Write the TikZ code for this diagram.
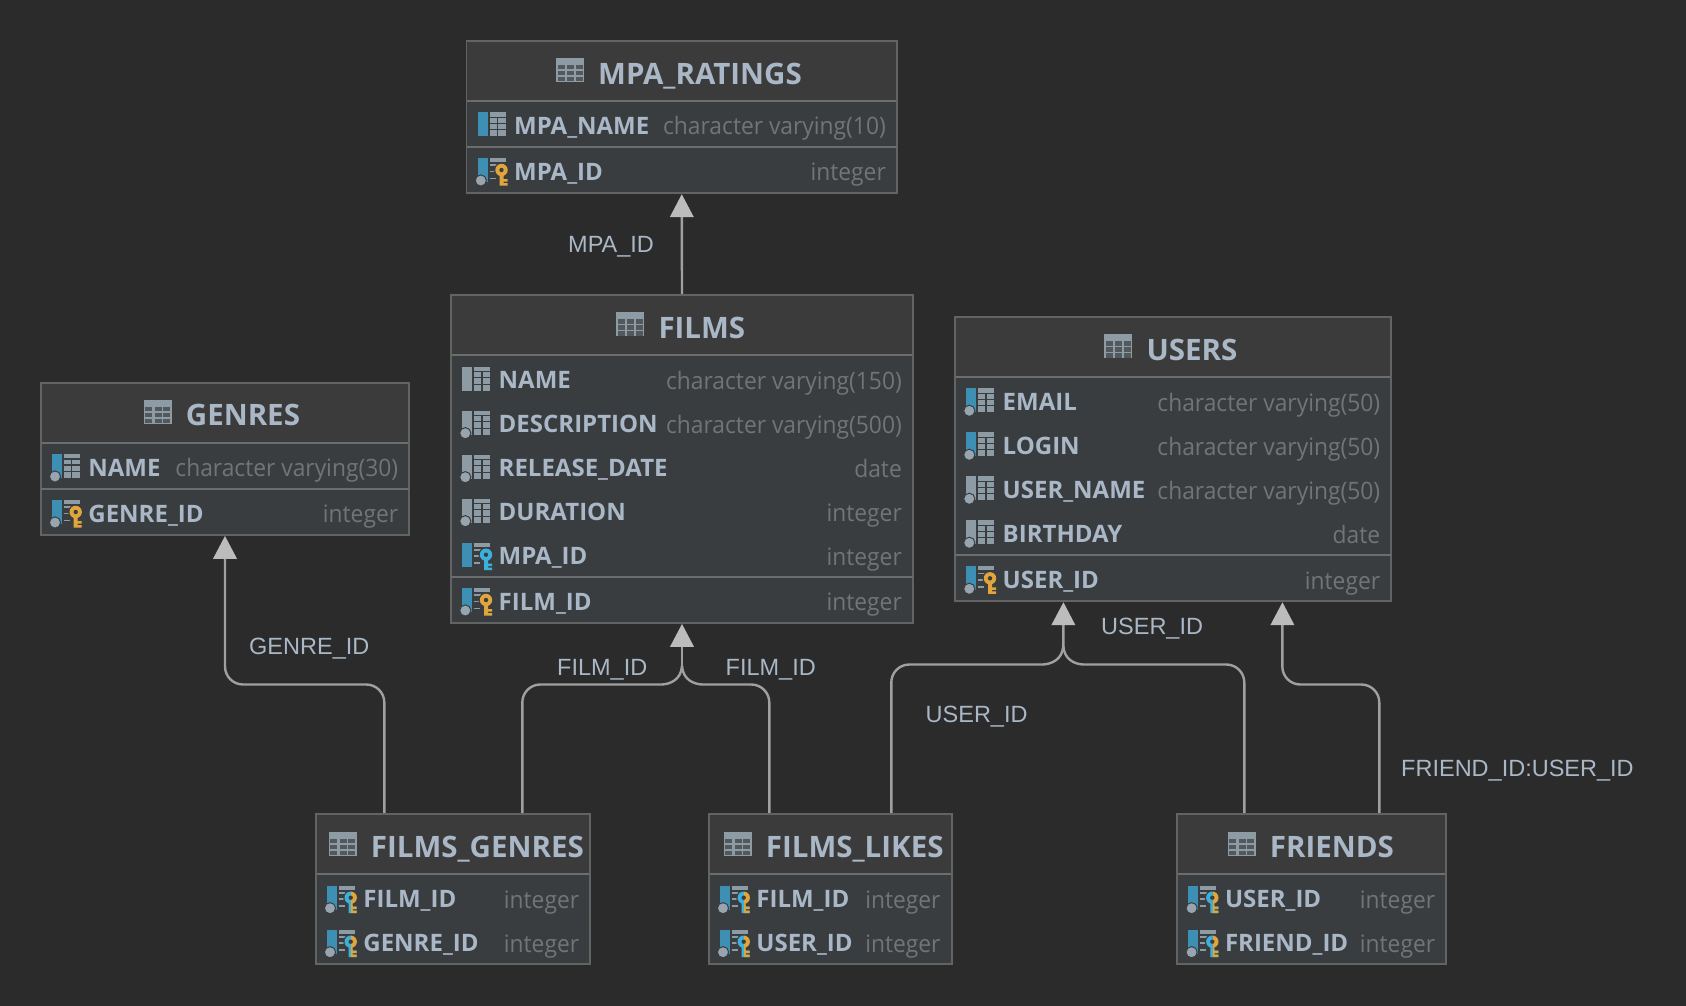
\documentclass[tikz,border=0pt]{standalone}
\usepackage{fontspec}
\setmainfont{Open Sans}
\newfontfamily\typefont[FakeStretch=.95]{Open Sans}
\newfontfamily\edgefont{Liberation Sans}
\usetikzlibrary{arrows.meta}
\definecolor{bgdark}{HTML}{2B2B2B}
\definecolor{headfill}{HTML}{3C3B3B}
\definecolor{rowfill}{HTML}{3A3D40}
\definecolor{framegray}{HTML}{626464}
\definecolor{sepgray}{HTML}{6C6E6E}
\definecolor{titleblue}{HTML}{A9B7C6}
\definecolor{typegray}{HTML}{727475}
\definecolor{icongray}{HTML}{8D9BA5}
\definecolor{cellgray}{HTML}{53585C}
\definecolor{barblue}{HTML}{3D8FB3}
\definecolor{dotgray}{HTML}{99A5AE}
\definecolor{keygold}{HTML}{E0A63C}
\definecolor{keyblue}{HTML}{3CB0DC}
\definecolor{linkgray}{HTML}{A0A0A0}
\definecolor{tipgray}{HTML}{BCBCBC}

% small parts of the column icons, origin at left of the bar
\newcommand{\iconbar}[1]{\fill[#1] (0,-12) rectangle (10,12);}
\newcommand{\icondot}{\fill[dotgray,draw=rowfill,line width=1] (3.3,10.5) circle (5.6);}
\newcommand{\icongrid}{%
\fill[icongray] (12,-12) rectangle (28,12);
\draw[rowfill,line width=1.2] (20,-7) -- (20,12) (12,-7) -- (28,-7) (12,-1) -- (28,-1) (12,5.5) -- (28,5.5);}
\newcommand{\iconkeygrid}{%
\fill[icongray] (12,-12) rectangle (28,-8);
\draw[icongray,line width=1.6] (12,-5) -- (19,-5) (12,1.5) -- (17,1.5) (12,8.5) -- (18,8.5);}
\newcommand{\iconkey}[1]{%
\fill[rowfill] (24,0) circle (7.5);
\fill[#1] (24,0) circle (6.2);
\fill[rowfill] (24,0) circle (2.2);
\fill[#1] (22,5) rectangle (26,15.5) (26,9) rectangle (30,11.5) (26,13) rectangle (30,15.5);}

\tikzset{
  tablehead/.style={anchor=base west,inner sep=0,font=\fontsize{29.5}{32}\selectfont\bfseries,text=titleblue},
  colname/.style={anchor=base west,inner sep=0,font=\fontsize{24}{28}\selectfont\bfseries,text=titleblue},
  coltype/.style={anchor=base east,inner sep=0,font=\fontsize{24}{28}\typefont,text=typegray},
  edgelabel/.style={anchor=base west,inner sep=0,font=\fontsize{23.5}{26}\edgefont,text=titleblue},
  framebox/.style={draw=framegray,line width=1.8,inner sep=0},
  seprule/.style={draw=sepgray,line width=2},
  fklink/.style={draw=linkgray,line width=2.4},
  fktip/.style={fklink,-{Triangle[length=23,width=23.5,color=tipgray]}},
  pics/colplain/.style={code={\iconbar{#1}\icongrid}},
  pics/coldotted/.style={code={\iconbar{#1}\icongrid\icondot}},
  pics/colpk/.style={code={\iconbar{barblue}\iconkeygrid\icondot\iconkey{keygold}}},
  pics/colfk/.style={code={\iconbar{barblue}\iconkeygrid\iconkey{keyblue}}},
  pics/colboth/.style={code={\iconbar{barblue}\iconkeygrid\icondot\iconkey{keyblue}
    \begin{scope}\clip (24.5,-8) rectangle (32,17);\iconkey{keygold}\end{scope}}},
  pics/tableicon/.style={code={
    \fill[icongray] (-14,-12) rectangle (14,12);
    \foreach \cx in {-12.5,-3.2,5.6} \foreach \cy in {-5,1,7}
      \fill[#1] (\cx,\cy) rectangle ++(7,4.2);}},
}

% name, left, top, right, bottom, end of head
\newcommand{\tableframe}[6]{%
\fill[rowfill] (#2,#3) rectangle (#4,#5);
\fill[headfill] (#2,#3) rectangle (#4,#6);
\draw[seprule] (#2,#6) -- (#4,#6);
\node[framebox,minimum width={(#4-#2)*1pt},minimum height={(#5-#3)*1pt}] (#1) at ({(#2+#4)/2},{(#3+#5)/2}) {};}
% name, text x, baseline, text
\newcommand{\tabletitle}[4]{%
\pic at ({#2-29},{#3-13}) {tableicon=cellgray};
\node[tablehead] (#1title) at ({#2-1},{#3+.8}) {#4};}
% name, left, right, baseline, column, type, icon
\newcommand{\colrow}[7]{%
\pic at ({#2+11},{#4-10}) {#7};
\node[colname] (#1name) at ({#2+47.5},#4) {#5};
\node[coltype] (#1type) at ({#3-11},{#4+.7}) {#6};}

\begin{document}
\begin{tikzpicture}[x=1pt,y=-1pt]
\useasboundingbox (0,0) rectangle (1686,1006);
\fill[bgdark] (0,0) rectangle (1686,1006);

% MPA_RATINGS
\tableframe{mpa}{466.5}{40.7}{897}{193.3}{101}
\draw[seprule] (466.5,147) -- (897,147);
\tabletitle{mpa}{599}{83.3}{MPA\_RATINGS}
\colrow{mpaa}{466.5}{897}{134.3}{MPA\_NAME}{character varying(10)}{colplain=barblue}
\colrow{mpab}{466.5}{897}{180}{MPA\_ID}{integer}{colpk}

% FILMS
\tableframe{films}{451}{294.7}{913}{623}{355}
\draw[seprule] (451,576.7) -- (913,576.7);
\tabletitle{films}{659.3}{337.3}{FILMS}
\colrow{filmsa}{451}{913}{388.7}{NAME}{character varying(150)}{colplain=icongray}
\colrow{filmsb}{451}{913}{432.7}{DESCRIPTION}{character varying(500)}{coldotted=icongray}
\colrow{filmsc}{451}{913}{476.7}{RELEASE\_DATE}{date}{coldotted=icongray}
\colrow{filmsd}{451}{913}{520.7}{DURATION}{integer}{coldotted=icongray}
\colrow{filmse}{451}{913}{564.7}{MPA\_ID}{integer}{colfk}
\colrow{filmsf}{451}{913}{610}{FILM\_ID}{integer}{colpk}

% GENRES
\tableframe{genres}{40.7}{382.7}{409.3}{535}{442.7}
\draw[seprule] (40.7,488.7) -- (409.3,488.7);
\tabletitle{genres}{186.7}{425}{GENRES}
\colrow{genresa}{40.7}{409.3}{476}{NAME}{character varying(30)}{coldotted=barblue}
\colrow{genresb}{40.7}{409.3}{522}{GENRE\_ID}{integer}{colpk}

% USERS
\tableframe{users}{955}{316.7}{1391.3}{601.3}{377}
\draw[seprule] (955,555) -- (1391.3,555);
\tabletitle{users}{1147.3}{359.3}{USERS}
\colrow{usersa}{955}{1391.3}{410.3}{EMAIL}{character varying(50)}{coldotted=barblue}
\colrow{usersb}{955}{1391.3}{454.3}{LOGIN}{character varying(50)}{coldotted=barblue}
\colrow{usersc}{955}{1391.3}{498.3}{USER\_NAME}{character varying(50)}{coldotted=icongray}
\colrow{usersd}{955}{1391.3}{542.3}{BIRTHDAY}{date}{coldotted=icongray}
\colrow{userse}{955}{1391.3}{588.3}{USER\_ID}{integer}{colpk}

% FILMS_GENRES
\tableframe{fg}{315.7}{813.7}{590.3}{963.7}{873.7}
\tabletitle{fg}{371.7}{856.7}{FILMS\_GENRES}
\colrow{fga}{315.7}{590.3}{907.7}{FILM\_ID}{integer}{colboth}
\colrow{fgb}{315.7}{590.3}{951.7}{GENRE\_ID}{integer}{colboth}

% FILMS_LIKES
\tableframe{fl}{708.7}{813.7}{951.7}{963.7}{873.7}
\tabletitle{fl}{766.7}{856.7}{FILMS\_LIKES}
\colrow{fla}{708.7}{951.7}{907.7}{FILM\_ID}{integer}{colboth}
\colrow{flb}{708.7}{951.7}{951.7}{USER\_ID}{integer}{colboth}

% FRIENDS
\tableframe{friends}{1177.3}{813.7}{1446.3}{963.7}{873.7}
\tabletitle{friends}{1270.7}{856.7}{FRIENDS}
\colrow{friendsa}{1177.3}{1446.3}{907.7}{USER\_ID}{integer}{colboth}
\colrow{friendsb}{1177.3}{1446.3}{951.7}{FRIEND\_ID}{integer}{colboth}

% links
\coordinate (genresbend) at (225,684.5);
\coordinate (filmsjoin) at (682,666);
\coordinate (usersjoin) at (1063.3,646);
\coordinate (friendsbend) at (1282.3,684.5);
\draw[fktip] (films.north) -- (mpa.south);
\draw[fktip,rounded corners=18] ([xshift=-68.7]fg.north) |- (genresbend) -- (genres.south);
\draw[fklink,rounded corners=18] ([xshift=69.3]fg.north) |- (662,684.5);
\draw[fklink] (662,684.5) .. controls (670,684) and (681,680) .. (filmsjoin);
\draw[fklink,rounded corners=18] ([xshift=-60.9]fl.north) |- (702,684.5);
\draw[fklink] (702,684.5) .. controls (694,684) and (683,680) .. (filmsjoin);
\draw[fktip] (filmsjoin) -- (films.south);
\draw[fklink,rounded corners=18] ([xshift=61.1]fl.north) |- (1043,664.5);
\draw[fklink] (1043,664.5) .. controls (1051,664) and (1062.3,660) .. (usersjoin);
\draw[fklink,rounded corners=18] ([xshift=-67.5]friends.north) |- (1083,664.5);
\draw[fklink] (1083,664.5) .. controls (1075,664) and (1064.3,660) .. (usersjoin);
\draw[fktip] (usersjoin) -- ([xshift=-109.7]users.south);
\draw[fktip,rounded corners=18] ([xshift=67.5]friends.north) |- (friendsbend) -- ([xshift=109.3]users.south);

% labels on links
\node[edgelabel] (mpalabel) at (568,252.7) {MPA\_ID};
\node[edgelabel] (genrelabel) at (249,654.3) {GENRE\_ID};
\node[edgelabel] (fglabel) at (557,675) {FILM\_ID};
\node[edgelabel] (fllabel) at (725.5,675) {FILM\_ID};
\node[edgelabel] (userlabel) at (1101,634.3) {USER\_ID};
\node[edgelabel] (fulabel) at (925.5,722.7) {USER\_ID};
\node[edgelabel] (friendlabel) at (1401,776.7) {FRIEND\_ID:USER\_ID};
\end{tikzpicture}
\end{document}
